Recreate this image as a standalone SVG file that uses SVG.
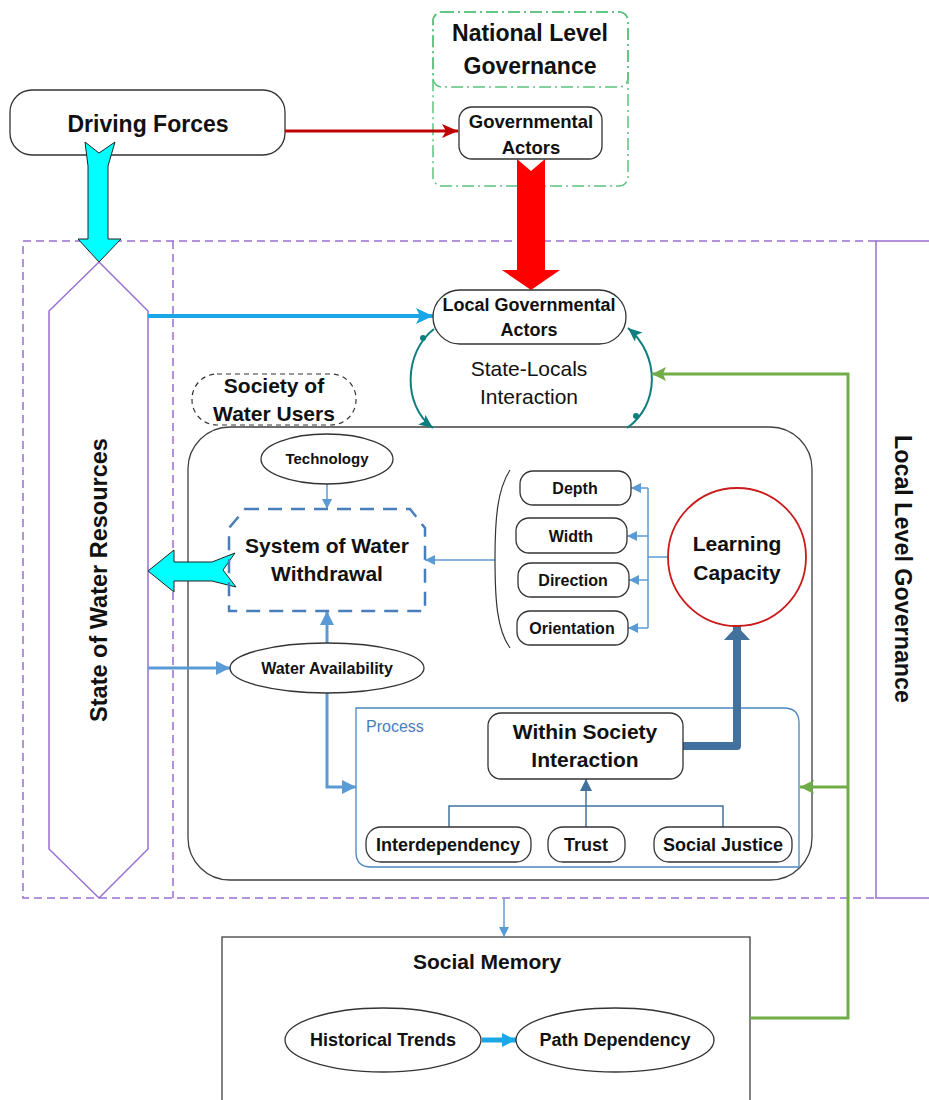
<svg xmlns="http://www.w3.org/2000/svg" width="929" height="1100" viewBox="0 0 929 1100">
<style>
text{font-family:"Liberation Sans",Arial,sans-serif;fill:#111;text-anchor:middle}
.b{font-weight:bold}
.box{fill:#fff;stroke:#333;stroke-width:1.3}
.purp{fill:none;stroke:#9a6fd0;stroke-width:1.5}
.pdash{fill:none;stroke:#9a6fd0;stroke-width:1.5;stroke-dasharray:8 5}
.lb{fill:none;stroke:#5b9bd5;stroke-width:1.5}
.lb3{fill:none;stroke:#5b9bd5;stroke-width:3}
.teal{fill:none;stroke:#0e7f7e;stroke-width:2}
.grn{fill:none;stroke:#70ad47;stroke-width:3}
.proc{fill:none;stroke:#4a86c0;stroke-width:1.3}
</style>
<defs>
<marker id="mRed" markerUnits="userSpaceOnUse" markerWidth="16" markerHeight="14" refX="16" refY="7" orient="auto"><path d="M0,0 L16,7 L0,14 L4,7 z" fill="#c00000"/></marker>
<marker id="mSky" markerUnits="userSpaceOnUse" markerWidth="17" markerHeight="16" refX="17" refY="8" orient="auto"><path d="M0,0 L17,8 L0,16 L4,8 z" fill="#1aa7e8"/></marker>
<marker id="mSky2" markerUnits="userSpaceOnUse" markerWidth="14" markerHeight="14" refX="14" refY="7" orient="auto"><path d="M0,0 L14,7 L0,14 z" fill="#1aa7e8"/></marker>
<marker id="mBS" markerUnits="userSpaceOnUse" markerWidth="10" markerHeight="10" refX="10" refY="5" orient="auto"><path d="M0,0 L10,5 L0,10 z" fill="#5b9bd5"/></marker>
<marker id="mBM" markerUnits="userSpaceOnUse" markerWidth="14" markerHeight="14" refX="14" refY="7" orient="auto"><path d="M0,0 L14,7 L0,14 z" fill="#5b9bd5"/></marker>
<marker id="mBP" markerUnits="userSpaceOnUse" markerWidth="12" markerHeight="12" refX="12" refY="6" orient="auto"><path d="M0,0 L12,6 L0,12 z" fill="#41719c"/></marker>
<marker id="mTeal" markerUnits="userSpaceOnUse" markerWidth="14" markerHeight="12" refX="14" refY="6" orient="auto"><path d="M0,0 L14,6 L0,12 L3,6 z" fill="#0e7f7e"/></marker>
<marker id="mGrn" markerUnits="userSpaceOnUse" markerWidth="14" markerHeight="14" refX="14" refY="7" orient="auto"><path d="M0,0 L14,7 L0,14 L3,7 z" fill="#70ad47"/></marker>
<marker id="mDark" markerUnits="userSpaceOnUse" markerWidth="14" markerHeight="26" refX="14" refY="13" orient="auto"><path d="M0,0 L14,13 L0,26 z" fill="#41719c"/></marker>
</defs>

<!-- containers -->
<g id="local-level-governance">
<rect x="876" y="241" width="100" height="657" class="purp"/>
<text class="b" font-size="23.3" transform="translate(903,569) rotate(90)" y="8">Local Level Governance</text>
</g>
<g id="outer-frame">
<path d="M876,241 H23 V898 H876" class="pdash"/>
<path d="M173,241 V898" class="pdash"/>
</g>
<g id="state-of-water-resources">
<polygon points="99,262 148,311 148,849 99,898 49,849 49,311" fill="#fff" class="purp"/>
<text class="b" font-size="23.5" transform="translate(99,580) rotate(-90)" y="8">State of Water Resources</text>
</g>
<g id="national-level-governance">
<rect x="433" y="12" width="195" height="174" rx="9" fill="none" stroke="#5bc27c" stroke-width="1.5" stroke-dasharray="12 4 2 4"/>
<rect x="433" y="12" width="195" height="75" rx="9" fill="none" stroke="#5bc27c" stroke-width="1.5" stroke-dasharray="12 4 2 4"/>
<text class="b" font-size="23" x="530" y="41">National Level</text>
<text class="b" font-size="23" x="530" y="74">Governance</text>
</g>
<g id="society-frame">
<rect x="188" y="427" width="624" height="453" rx="42" fill="none" stroke="#404040" stroke-width="1.3"/>
</g>
<g id="process">
<path d="M356,708 H784 Q799,708 799,723 V867 H371 Q356,867 356,852 Z" class="proc" fill="#fff"/>
<text font-size="16" x="366" y="732" style="text-anchor:start;fill:#4a7ebb">Process</text>
</g>
<g id="social-memory">
<rect x="222" y="937" width="528" height="200" fill="#fff" stroke="#404040" stroke-width="1.3"/>
<text class="b" font-size="21" x="487" y="969">Social Memory</text>
</g>
<g id="driving-forces">
<rect x="10" y="90" width="275" height="65" rx="22" class="box" fill="#fff"/>
<text class="b" font-size="23" x="148" y="132">Driving Forces</text>
</g>

<!-- connectors -->
<g id="connectors">
<path d="M285,131 H458" fill="none" stroke="#c00000" stroke-width="3" marker-end="url(#mRed)"/>
<polygon points="517,159 531,171 545,159 545,270 560,270 531,290 502,270 517,270" fill="#ff0000"/>
<polygon points="85,142 99,153 115,142 108,166 108,239 121,239 99,262 78,239 88,239 88,166" fill="#00ffff" stroke="#222" stroke-width="1"/>
<path d="M148,316 H433" fill="none" stroke="#1aa7e8" stroke-width="4" marker-end="url(#mSky)"/>
<path d="M434,329 C404,352 402,405 433,428" class="teal" marker-end="url(#mTeal)"/>
<circle cx="423" cy="338" r="3" fill="#0e7f7e"/>
<path d="M627,428 C660,405 660,355 628,328" class="teal" marker-end="url(#mTeal)"/>
<circle cx="636" cy="416" r="3" fill="#0e7f7e"/>
<path d="M750,1018 H848 V374 H652" class="grn" marker-end="url(#mGrn)"/>
<path d="M848,787 H800" class="grn" marker-end="url(#mGrn)"/>
<path d="M327,484 V509" class="lb" marker-end="url(#mBS)"/>
<path d="M495,560 H425" class="lb" marker-end="url(#mBS)"/>
<path d="M668,557 H648 M648,488 V628" class="lb"/>
<path d="M648,488 H631" class="lb" marker-end="url(#mBS)"/>
<path d="M648,536 H627" class="lb" marker-end="url(#mBS)"/>
<path d="M648,580 H629" class="lb" marker-end="url(#mBS)"/>
<path d="M648,628 H628" class="lb" marker-end="url(#mBS)"/>
<path d="M510,470 C497,490 495,520 495,559 C495,600 497,630 510,648" fill="none" stroke="#333" stroke-width="1.2"/>
<path d="M327,643 V611" class="lb3" marker-end="url(#mBM)"/>
<path d="M148,668 H230" class="lb3" marker-end="url(#mBM)"/>
<path d="M327,693 V787 H356" class="lb3" marker-end="url(#mBM)"/>
<polygon points="148,571 174,550 174,562 212,562 235,553 223,570 236,587 212,581 174,581 174,592" fill="#00ffff" stroke="#222" stroke-width="1"/>
<path d="M449,827 V806 H723 V827" fill="none" stroke="#41719c" stroke-width="1.5"/>
<path d="M586,827 V779" fill="none" stroke="#41719c" stroke-width="1.5" marker-end="url(#mBP)"/>
<path d="M683,746 H737 V626" fill="none" stroke="#41719c" stroke-width="8" stroke-linecap="round" stroke-linejoin="round" marker-end="url(#mDark)"/>
<path d="M504,899 V937" class="lb" marker-end="url(#mBS)"/>
<path d="M482,1040 H516" fill="none" stroke="#1aa7e8" stroke-width="5" marker-end="url(#mSky2)"/>
</g>

<!-- nodes -->
<g id="governmental-actors">
<rect x="459" y="107" width="143" height="52" rx="13" class="box"/>
<text class="b" font-size="18.5" x="531" y="127.5">Governmental</text>
<text class="b" font-size="18.5" x="531" y="153.5">Actors</text>
</g>
<g id="local-governmental-actors">
<rect x="433" y="290" width="193" height="54" rx="27" class="box"/>
<text class="b" font-size="18" x="529" y="311">Local Governmental</text>
<text class="b" font-size="18" x="529" y="336">Actors</text>
</g>
<g id="state-locals-interaction">
<text font-size="21" x="529" y="376">State-Locals</text>
<text font-size="21" x="529" y="404">Interaction</text>
</g>
<g id="society-of-water-users">
<rect x="192" y="374" width="164" height="51" rx="25" fill="#fff" stroke="#333" stroke-width="1.2" stroke-dasharray="5 4"/>
<text class="b" font-size="21" x="274" y="393">Society of</text>
<text class="b" font-size="21" x="274" y="421">Water Users</text>
</g>
<g id="technology">
<ellipse cx="327" cy="459" rx="66" ry="25" class="box"/>
<text class="b" font-size="15" x="327" y="464">Technology</text>
</g>
<g id="system-of-water-withdrawal">
<path d="M245,509 H410 L425,528 V611 H229 V528 Z" fill="none" stroke="#4a7ebb" stroke-width="2.5" stroke-dasharray="14 9"/>
<text class="b" font-size="21" x="327" y="553">System of Water</text>
<text class="b" font-size="21" x="327" y="581">Withdrawal</text>
</g>
<g id="water-availability">
<ellipse cx="327" cy="668" rx="97" ry="25" class="box"/>
<text class="b" font-size="16" x="327" y="674">Water Availability</text>
</g>
<g id="depth">
<rect x="520" y="471" width="111" height="34" rx="13" class="box"/>
<text class="b" font-size="16" x="575" y="494">Depth</text>
</g>
<g id="width">
<rect x="516" y="518" width="111" height="35" rx="13" class="box"/>
<text class="b" font-size="16" x="571" y="542">Width</text>
</g>
<g id="direction">
<rect x="518" y="563" width="111" height="34" rx="13" class="box"/>
<text class="b" font-size="16" x="573" y="586">Direction</text>
</g>
<g id="orientation">
<rect x="517" y="611" width="111" height="34" rx="13" class="box"/>
<text class="b" font-size="16" x="572" y="634">Orientation</text>
</g>
<g id="learning-capacity">
<circle cx="737" cy="557" r="69" fill="#fff" stroke="#cc1a1a" stroke-width="1.8"/>
<text class="b" font-size="21" x="737" y="551">Learning</text>
<text class="b" font-size="21" x="737" y="580">Capacity</text>
</g>
<g id="within-society-interaction">
<rect x="488" y="713" width="195" height="66" rx="13" class="box"/>
<text class="b" font-size="21" x="585" y="739">Within Society</text>
<text class="b" font-size="21" x="585" y="767">Interaction</text>
</g>
<g id="interdependency">
<rect x="366" y="827" width="165" height="35" rx="15" class="box"/>
<text class="b" font-size="18" x="448" y="851">Interdependency</text>
</g>
<g id="trust">
<rect x="548" y="827" width="77" height="35" rx="15" class="box"/>
<text class="b" font-size="18" x="586" y="851">Trust</text>
</g>
<g id="social-justice">
<rect x="654" y="827" width="138" height="35" rx="15" class="box"/>
<text class="b" font-size="18" x="723" y="851">Social Justice</text>
</g>
<g id="historical-trends">
<ellipse cx="383" cy="1040" rx="98" ry="32" class="box"/>
<text class="b" font-size="18" x="383" y="1046">Historical Trends</text>
</g>
<g id="path-dependency">
<ellipse cx="615" cy="1040" rx="99" ry="32" class="box"/>
<text class="b" font-size="18" x="615" y="1046">Path Dependency</text>
</g>
</svg>
